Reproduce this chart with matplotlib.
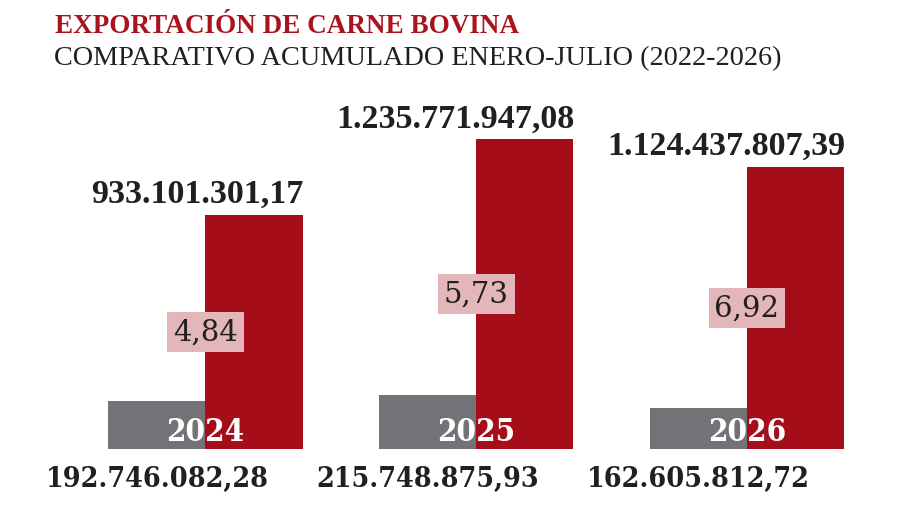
import matplotlib
matplotlib.use("Agg")
import matplotlib.pyplot as plt
from matplotlib import font_manager as fm
from matplotlib.font_manager import FontProperties

# ---- data ----
years = ["2024", "2025", "2026"]
gray_values = [192746082.28, 215748875.93, 162605812.72]
red_values = [933101301.17, 1235771947.08, 1124437807.39]
gray_labels = ["192.746.082,28", "215.748.875,93", "162.605.812,72"]
red_labels = ["933.101.301,17", "1.235.771.947,08", "1.124.437.807,39"]
ratio_labels = ["4,84", "5,73", "6,92"]
title = "EXPORTACIÓN DE CARNE BOVINA"
subtitle = "COMPARATIVO ACUMULADO ENERO-JULIO (2022-2026)"

RED = "#a50e18"
GRAY = "#737277"
PINK = "#e3b6b9"
DARK = "#231f20"
TITLE_RED = "#a8141e"


def find_font(keys, exclude=()):
    for f in fm.fontManager.ttflist:
        fn = f.fname.replace("-", "").replace("_", "")
        if all(k in fn for k in keys) and not any(e in fn for e in exclude):
            return f.fname
    return None


cond_bold = find_font(["DejaVuSerifCondensedBold"], exclude=["Italic", "Oblique"])
if cond_bold:
    fp_cond_bold = lambda s: FontProperties(fname=cond_bold, size=s)
else:
    fp_cond_bold = lambda s: FontProperties(family="DejaVu Serif", weight="bold", size=s * 0.92)

fig = plt.figure(figsize=(9.08, 5.13), dpi=100)
W, H = 908, 513
bottom_px = 449
px_per_unit = 0.2506e-6  # pixels per value unit
ax_h = bottom_px / H
ax = fig.add_axes([0, (H - bottom_px) / H, 1, ax_h])
ymax = bottom_px / px_per_unit
ax.set_ylim(0, ymax)
spacing = 270.75
x0 = 205.5
ax.set_xlim(-x0 / spacing, (W - x0) / spacing)
ax.axis("off")
bw = 97 / spacing

xs = list(range(len(years)))
ax.bar(xs, gray_values, width=-bw, align="edge", color=GRAY, zorder=1)
ax.bar(xs, red_values, width=bw, align="edge", color=RED, zorder=1)

for i in xs:
    # value above red bar, right aligned to bar edge
    ax.annotate(red_labels[i], xy=(i + bw, red_values[i]), xytext=(1, 12),
                textcoords="offset pixels", ha="right", va="baseline",
                fontproperties=FontProperties(family="Liberation Serif", weight="bold", size=24.5),
                color=DARK, zorder=3)
    # value below gray bar
    ax.annotate(gray_labels[i], xy=(i - bw / 2, 0), xytext=(0, -38),
                textcoords="offset pixels", ha="center", va="baseline",
                fontproperties=fp_cond_bold(20.5), color=DARK,
                annotation_clip=False, zorder=3)
    # year label
    ax.annotate(years[i], xy=(i, 0), xytext=(0, 8),
                textcoords="offset pixels", ha="center", va="baseline",
                fontproperties=fp_cond_bold(22.5), color="white", zorder=3)
    # ratio box
    ax.text(i, red_values[i] / 2, ratio_labels[i], ha="center", va="center",
            fontproperties=FontProperties(family="DejaVu Serif", size=21),
            color=DARK, zorder=4,
            bbox=dict(boxstyle="square,pad=0.2", facecolor=PINK, edgecolor="none"))

fig.text(55 / W, 1 - 33 / H, title, ha="left", va="baseline",
         fontproperties=FontProperties(family="Liberation Serif", weight="bold", size=19.5),
         color=TITLE_RED)
fig.text(54 / W, 1 - 65 / H, subtitle, ha="left", va="baseline",
         fontproperties=FontProperties(family="Liberation Serif", size=20.3),
         color=DARK)

fig.savefig("out.png", dpi=100, facecolor="white")
